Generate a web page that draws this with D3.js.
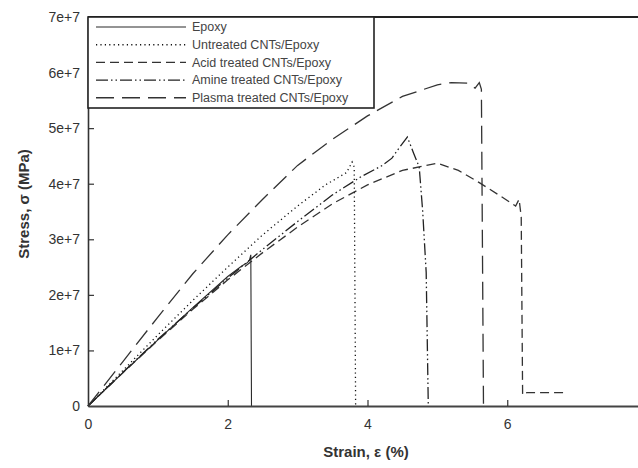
<!DOCTYPE html>
<html>
<head>
<meta charset="utf-8">
<script src="https://cdn.jsdelivr.net/npm/d3@7"></script>
<style>
  html, body { margin: 0; padding: 0; background: #fff; }
  svg { display: block; }
  text { font-family: "Liberation Sans", Arial, sans-serif; }
</style>
</head>
<body>
<svg id="chart" width="638" height="468"></svg>
<script>
// Tensile stress–strain curves (strain in %, stress in units of 1e7)
const seriesNames = [
  "Epoxy",
  "Untreated CNTs/Epoxy",
  "Acid treated CNTs/Epoxy",
  "Amine treated CNTs/Epoxy",
  "Plasma treated CNTs/Epoxy"
];

const epoxy = [
  [0, 0], [0.5, 0.6], [1, 1.19], [1.5, 1.77], [2, 2.33], [2.2, 2.52],
  [2.28, 2.58], [2.31, 2.62], [2.33, 2.72], [2.34, 0]
];
const untreated = [
  [0, 0], [0.5, 0.64], [1, 1.28], [1.5, 1.9], [2, 2.5], [2.5, 3.08],
  [3, 3.6], [3.4, 3.98], [3.7, 4.2], [3.78, 4.39], [3.81, 4.3], [3.83, 0]
];
const acid = [
  [0, 0], [0.5, 0.6], [1, 1.18], [1.5, 1.74], [2, 2.27], [2.5, 2.76],
  [3, 3.22], [3.5, 3.64], [4, 3.98], [4.5, 4.24], [5.0, 4.37], [5.3, 4.24],
  [5.6, 4.02], [5.9, 3.78], [6.12, 3.6], [6.17, 3.72], [6.2, 3.4],
  [6.22, 0.2], [6.28, 0.24], [6.85, 0.24]
];
const amine = [
  [0, 0], [0.5, 0.61], [1, 1.2], [1.5, 1.76], [2, 2.3], [2.5, 2.82],
  [3, 3.32], [3.5, 3.8], [3.9, 4.12], [4.2, 4.32], [4.35, 4.46], [4.45, 4.64],
  [4.57, 4.84], [4.66, 4.55], [4.74, 4.3], [4.79, 3.5], [4.84, 2.4], [4.87, 0]
];
const plasma = [
  [0, 0], [0.5, 0.8], [1, 1.6], [1.5, 2.38], [2, 3.08], [2.5, 3.72],
  [3, 4.33], [3.5, 4.8], [4, 5.22], [4.5, 5.57], [5, 5.78], [5.2, 5.82],
  [5.43, 5.81], [5.54, 5.72], [5.6, 5.82], [5.63, 5.7], [5.66, 0]
];

const xTicks = [0, 2, 4, 6];
const yTicks = [0, 1, 2, 3, 4, 5, 6, 7];
const yTickLabels = ["0", "1e+7", "2e+7", "3e+7", "4e+7", "5e+7", "6e+7", "7e+7"];

const series = [
  { name: seriesNames[0], data: epoxy,     dash: null,               color: "#2a2a2a" },
  { name: seriesNames[1], data: untreated, dash: "1.2,3.2",          color: "#111" },
  { name: seriesNames[2], data: acid,      dash: "9,5",              color: "#333" },
  { name: seriesNames[3], data: amine,     dash: "12,3,1.5,3,1.5,3", color: "#222" },
  { name: seriesNames[4], data: plasma,    dash: "18,8",             color: "#333" }
];

const svg = d3.select("#chart");
const plotLeft = 88, plotTop = 17, plotBottom = 406, plotRight = 647;

const x = d3.scaleLinear().domain([0, 8]).range([plotLeft, plotRight]);
const y = d3.scaleLinear().domain([0, 7]).range([plotBottom, plotTop]);

// Curves
const line = d3.line().x(d => x(d[0])).y(d => y(d[1]));
const curves = svg.append("g");
series.forEach(s => {
  curves.append("path")
    .datum(s.data)
    .attr("d", line)
    .attr("fill", "none")
    .attr("stroke", s.color)
    .attr("stroke-width", s.dash ? 1.3 : 1.1)
    .attr("stroke-dasharray", s.dash);
});

// Axes with inward ticks
const xAxis = d3.axisBottom(x).tickValues(xTicks).tickSizeInner(-6).tickSizeOuter(0).tickPadding(10);
const gx = svg.append("g").attr("transform", `translate(0,${plotBottom})`).call(xAxis);
gx.select(".domain").attr("stroke", "#444").attr("stroke-width", 2.2);
gx.selectAll(".tick line").attr("stroke", "#333").attr("stroke-width", 1.2);
gx.selectAll(".tick text").attr("font-size", 14).attr("fill", "#333").attr("dy", "0.9em");
gx.selectAll(".tick").filter(d => d === 0).select("line").remove();

const yAxis = d3.axisLeft(y).tickValues(yTicks).tickFormat((d, i) => yTickLabels[i])
  .tickSizeInner(-6).tickSizeOuter(0).tickPadding(8);
const gy = svg.append("g").attr("transform", `translate(${plotLeft},0)`).call(yAxis);
gy.select(".domain").attr("stroke", "#333").attr("stroke-width", 1.6);
gy.selectAll(".tick line").attr("stroke", "#333").attr("stroke-width", 1.2);
gy.selectAll(".tick text").attr("font-size", 14).attr("fill", "#333");
gy.selectAll(".tick").filter(d => d === 0).select("line").remove();

// Top frame line
svg.append("line")
  .attr("x1", plotLeft).attr("x2", plotRight).attr("y1", plotTop).attr("y2", plotTop)
  .attr("stroke", "#222").attr("stroke-width", 1.8);

// Legend box
const legend = svg.append("g");
legend.append("rect")
  .attr("x", plotLeft).attr("y", plotTop).attr("width", 286).attr("height", 91)
  .attr("fill", "#fff").attr("stroke", "#222").attr("stroke-width", 1.6);
series.forEach((s, i) => {
  const ly = 27 + i * 17.7;
  legend.append("line")
    .attr("x1", 96).attr("x2", 186).attr("y1", ly).attr("y2", ly)
    .attr("stroke", s.color).attr("stroke-width", s.dash ? 1.4 : 1.2)
    .attr("stroke-dasharray", s.dash);
  legend.append("text")
    .attr("x", 192).attr("y", ly).attr("dy", "0.35em")
    .attr("font-size", 12.5).attr("fill", "#444")
    .text(s.name);
});

// Axis titles
svg.append("text")
  .attr("x", 366).attr("y", 457)
  .attr("text-anchor", "middle").attr("font-size", 15).attr("font-weight", "bold").attr("fill", "#333")
  .text("Strain, ε (%)");
svg.append("text")
  .attr("transform", "translate(29,204) rotate(-90)")
  .attr("text-anchor", "middle").attr("font-size", 15).attr("font-weight", "bold").attr("fill", "#333")
  .text("Stress, σ (MPa)");
</script>
</body>
</html>
